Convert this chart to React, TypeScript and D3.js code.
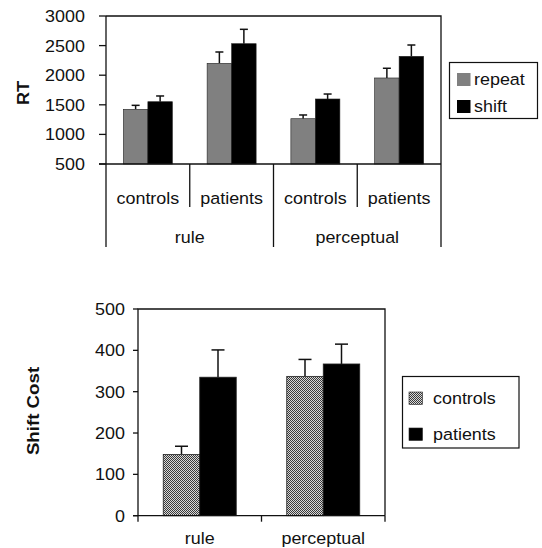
import React from "react";
import * as d3 from "d3";

// top chart: RT by task / group / trial type
const tasks = ["rule", "perceptual"];
const groups = ["controls", "patients"];
const trialTypes = ["repeat", "shift"];
const repeatRT = [1424, 2201, 1265, 1953];
const repeatErr = [67, 191, 63, 164];
const shiftRT = [1552, 2532, 1598, 2319];
const shiftErr = [97, 243, 84, 191];
const rtTicks = [500, 1000, 1500, 2000, 2500, 3000];

// bottom chart: shift cost
const costCategories = ["rule", "perceptual"];
const controlsCost = [148, 337];
const controlsCostErr = [20, 41];
const patientsCost = [335, 367];
const patientsCostErr = [66, 48];
const costTicks = [0, 100, 200, 300, 400, 500];

const FONT = "'Liberation Sans', Arial, Helvetica, sans-serif";
const SX = 1.1; // glyphs in the figure are a bit wide
const INK = "#111";

const T = ({ x, y, anchor = "start", size = 16.3, bold = false, rotate = 0, children }: any) => (
  <text
    transform={`translate(${x},${y}) rotate(${rotate}) scale(${SX},1)`}
    textAnchor={anchor}
    fontFamily={FONT}
    fontSize={size}
    fontWeight={bold ? "bold" : "normal"}
    fill={INK}
  >
    {children}
  </text>
);

const TopChart = () => {
  const left = 106, right = 441, top = 16, bottom = 164;
  const cells = tasks.flatMap((t) => groups.map((g) => `${t}-${g}`));
  const x = d3.scaleBand().domain(cells).range([left, right]);
  const y = d3.scaleLinear().domain([500, 3000]).range([bottom, top]);
  const barW = 24.5;
  const series = [
    { name: trialTypes[0], vals: repeatRT, errs: repeatErr, fill: "#808080" },
    { name: trialTypes[1], vals: shiftRT, errs: shiftErr, fill: "#000" },
  ];
  const taskBand = d3.scaleBand().domain(tasks).range([left, right]);

  return (
    <g>
      {/* bars */}
      {series.map((s, si) =>
        cells.map((c, i) => {
          const cx = x(c)! + x.bandwidth() / 2;
          const bx = cx - barW + si * barW;
          const mid = bx + barW / 2;
          const ey = y(s.vals[i] + s.errs[i]);
          return (
            <g key={s.name + c}>
              <line x1={mid} x2={mid} y1={y(s.vals[i])} y2={ey} stroke={INK} strokeWidth={1.5} />
              <line x1={mid - 4} x2={mid + 4} y1={ey} y2={ey} stroke={INK} strokeWidth={1.5} />
              <rect x={bx} y={y(s.vals[i])} width={barW} height={bottom - y(s.vals[i])} fill={s.fill} stroke="#222" strokeWidth={0.6} />
            </g>
          );
        })
      )}
      {/* frame */}
      <path d={`M${left},${top}H${right}V${bottom}`} fill="none" stroke={INK} strokeWidth={1.3} />
      <line x1={left - 7} x2={right} y1={bottom} y2={bottom} stroke={INK} strokeWidth={1.3} />
      <line x1={left} x2={left} y1={top} y2={bottom} stroke={INK} strokeWidth={1.3} />
      {rtTicks.map((t) => (
        <g key={t}>
          <line x1={left - 7} x2={left} y1={y(t)} y2={y(t)} stroke={INK} strokeWidth={1.3} />
          <T x={85} y={y(t) + 6} anchor="end">{t}</T>
        </g>
      ))}
      {/* category axis */}
      {[left, taskBand(tasks[1])!, right].map((sx, i) => (
        <line key={"s" + i} x1={sx} x2={sx} y1={bottom} y2={247} stroke={INK} strokeWidth={1.3} />
      ))}
      {tasks.map((t) => (
        <line key={"m" + t} x1={x(`${t}-${groups[1]}`)!} x2={x(`${t}-${groups[1]}`)!} y1={bottom} y2={207} stroke={INK} strokeWidth={1.3} />
      ))}
      {cells.map((c) => (
        <T key={"l" + c} x={x(c)! + x.bandwidth() / 2} y={204} anchor="middle">{c.split("-")[1]}</T>
      ))}
      {tasks.map((t) => (
        <T key={"t" + t} x={taskBand(t)! + taskBand.bandwidth() / 2} y={243} anchor="middle">{t}</T>
      ))}
      <T x={29} y={93} anchor="middle" bold size={16.5} rotate={-90}>RT</T>
      {/* legend */}
      <rect x={449.5} y={62.5} width={88} height={56} fill="#fff" stroke={INK} strokeWidth={1.2} />
      {series.map((s, i) => (
        <g key={"lg" + s.name}>
          <rect x={457} y={73 + i * 27} width={13.5} height={13} fill={s.fill} />
          <T x={474} y={85 + i * 27}>{s.name}</T>
        </g>
      ))}
    </g>
  );
};

const BottomChart = () => {
  const left = 138, right = 385, top = 309, bottom = 515.7;
  const x = d3.scaleBand().domain(costCategories).range([left, right]);
  const y = d3.scaleLinear().domain([0, 500]).range([bottom, top]);
  const barW = 36.5;
  const series = [
    { name: groups[0], vals: controlsCost, errs: controlsCostErr, fill: "url(#checker)" },
    { name: groups[1], vals: patientsCost, errs: patientsCostErr, fill: "#000" },
  ];
  return (
    <g>
      {series.map((s, si) =>
        costCategories.map((c, i) => {
          const cx = x(c)! + x.bandwidth() / 2;
          const bx = cx - barW + si * barW;
          const mid = bx + barW / 2;
          const ey = y(s.vals[i] + s.errs[i]);
          return (
            <g key={s.name + c}>
              <line x1={mid} x2={mid} y1={y(s.vals[i])} y2={ey} stroke={INK} strokeWidth={1.5} />
              <line x1={mid - 6.5} x2={mid + 6.5} y1={ey} y2={ey} stroke={INK} strokeWidth={1.5} />
              <rect x={bx} y={y(s.vals[i])} width={barW} height={bottom - y(s.vals[i])} fill={s.fill} stroke="#222" strokeWidth={0.8} />
            </g>
          );
        })
      )}
      <path d={`M${left},${bottom}V${top}H${right}V${bottom}`} fill="none" stroke={INK} strokeWidth={1.3} />
      <line x1={left - 5} x2={right} y1={bottom} y2={bottom} stroke={INK} strokeWidth={1.3} />
      {costTicks.map((t) => (
        <g key={t}>
          <line x1={left - 5} x2={left} y1={y(t)} y2={y(t)} stroke={INK} strokeWidth={1.3} />
          <T x={125} y={y(t) + 6} anchor="end">{t}</T>
        </g>
      ))}
      {[left, x(costCategories[1])!, right].map((tx, i) => (
        <line key={"xt" + i} x1={tx} x2={tx} y1={bottom} y2={bottom + 6} stroke={INK} strokeWidth={1.3} />
      ))}
      {costCategories.map((c) => (
        <T key={"c" + c} x={x(c)! + x.bandwidth() / 2} y={544} anchor="middle">{c}</T>
      ))}
      <T x={39} y={411} anchor="middle" bold size={17} rotate={-90}>Shift Cost</T>
      <rect x={402.5} y={376.5} width={116.5} height={71.5} fill="#fff" stroke={INK} strokeWidth={1.2} />
      {series.map((s, i) => (
        <g key={"lg" + s.name}>
          <rect x={409} y={392 + i * 36} width={13.5} height={12.5} fill={s.fill} stroke="#222" strokeWidth={0.6} />
          <T x={433} y={404 + i * 36}>{s.name}</T>
        </g>
      ))}
    </g>
  );
};

export default function App() {
  return (
    <svg width={542} height={548} style={{ position: "absolute", left: 0, top: 0, background: "#fff" }}>
      <defs>
        <pattern id="checker" width={2} height={2} patternUnits="userSpaceOnUse">
          <rect width={2} height={2} fill="#d8d8d8" />
          <rect width={1} height={1} fill="#3a3a3a" />
          <rect x={1} y={1} width={1} height={1} fill="#3a3a3a" />
        </pattern>
      </defs>
      <TopChart />
      <BottomChart />
    </svg>
  );
}
